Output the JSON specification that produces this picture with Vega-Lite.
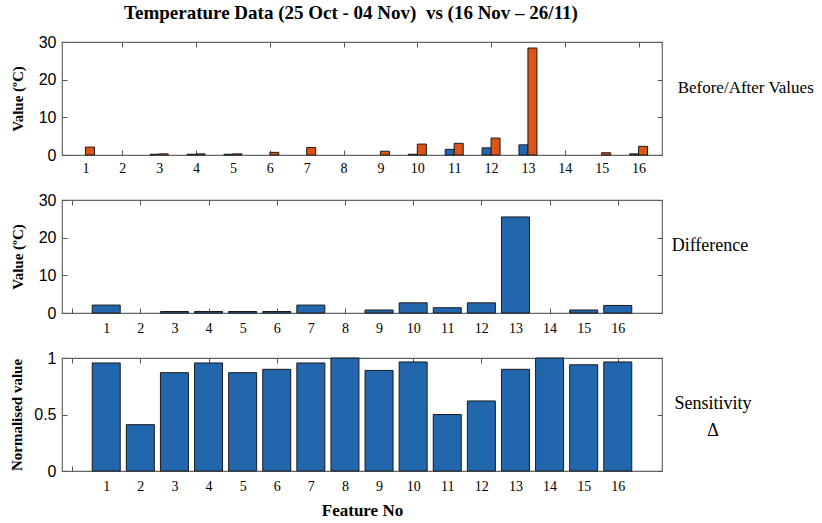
{
  "$schema": "https://vega.github.io/schema/vega-lite/v6.json",
  "background": "white",
  "padding": {"left": 9, "top": 4, "right": 0, "bottom": 0},
  "title": {"text": "Temperature Data (25 Oct - 04 Nov) \u00a0vs (16 Nov – 26/11)", "font": "Liberation Serif", "fontSize": 19, "fontWeight": "bold", "anchor": "middle", "frame": "group", "offset": 10, "dx": -11, "color": "#000"},
  "datasets": {
    "features": [
      {"feature": 1, "before": 0, "after": 2.1, "difference": 2.1, "sensitivity": 0.956},
      {"feature": 2, "before": 0, "after": 0, "difference": 0, "sensitivity": 0.41},
      {"feature": 3, "before": 0.2, "after": 0.3, "difference": 0.4, "sensitivity": 0.87},
      {"feature": 4, "before": 0.2, "after": 0.3, "difference": 0.4, "sensitivity": 0.956},
      {"feature": 5, "before": 0.2, "after": 0.3, "difference": 0.4, "sensitivity": 0.87},
      {"feature": 6, "before": 0, "after": 0.7, "difference": 0.4, "sensitivity": 0.9},
      {"feature": 7, "before": 0, "after": 2.0, "difference": 2.1, "sensitivity": 0.956},
      {"feature": 8, "before": 0, "after": 0, "difference": 0, "sensitivity": 1.0},
      {"feature": 9, "before": 0, "after": 1.0, "difference": 0.8, "sensitivity": 0.89},
      {"feature": 10, "before": 0.2, "after": 2.9, "difference": 2.7, "sensitivity": 0.965},
      {"feature": 11, "before": 1.5, "after": 3.1, "difference": 1.4, "sensitivity": 0.5},
      {"feature": 12, "before": 1.9, "after": 4.5, "difference": 2.7, "sensitivity": 0.62},
      {"feature": 13, "before": 2.7, "after": 28.4, "difference": 25.5, "sensitivity": 0.9},
      {"feature": 14, "before": 0, "after": 0, "difference": 0, "sensitivity": 1.0},
      {"feature": 15, "before": 0, "after": 0.6, "difference": 0.8, "sensitivity": 0.94},
      {"feature": 16, "before": 0.3, "after": 2.3, "difference": 2.0, "sensitivity": 0.965}
    ],
    "labels": [{"panel": "single"}]
  },
  "config": {
    "view": {"stroke": "#666", "strokeWidth": 1.2},
    "axis": {"domain": false, "grid": false, "tickColor": "#555", "tickWidth": 1, "labelColor": "#000", "titleColor": "#000"}
  },
  "bounds": "flush",
  "spacing": 45,
  "vconcat": [
    {
      "width": 600, "height": 113,
      "layer": [
        {
          "data": {"name": "features"},
          "transform": [{"filter": "datum.before > 0"}],
          "mark": {"type": "bar", "orient": "vertical", "size": 9, "xOffset": -4.5, "color": "#2267ad", "stroke": "#1a1a1a", "strokeWidth": 1},
          "encoding": {
            "x": {"field": "feature", "type": "quantitative", "scale": {"domain": [0.5, 16.5], "nice": false, "zero": false},
              "axis": {"orient": "bottom", "offset": -5, "tickSize": 5, "values": [1,2,3,4,5,6,7,8,9,10,11,12,13,14,15,16],
                "tickOpacity": {"condition": {"test": "datum.value % 2 === 0", "value": 1}, "value": 0},
                "labelFont": "Liberation Serif", "labelFontSize": 14, "labelPadding": 6, "title": null}},
            "y": {"field": "before", "type": "quantitative", "stack": null, "scale": {"domain": [0, 30], "nice": false},
              "axis": {"orient": "left", "offset": -5, "tickSize": 5, "values": [0, 10, 20, 30], "labelFont": "Liberation Sans", "labelFontSize": 16, "labelPadding": 6,
                "title": "Value (ºC)", "titleFont": "Liberation Serif", "titleFontWeight": "bold", "titleFontSize": 15, "titlePadding": 13}}
          }
        },
        {
          "data": {"name": "features"},
          "transform": [{"filter": "datum.after > 0"}],
          "mark": {"type": "bar", "orient": "vertical", "size": 9, "xOffset": 4.5, "color": "#dd5516", "stroke": "#1a1a1a", "strokeWidth": 1},
          "encoding": {
            "x": {"field": "feature", "type": "quantitative",
              "axis": {"orient": "top", "offset": -5, "tickSize": 5, "values": [2,4,6,8,10,12,14,16], "labels": false, "title": null}},
            "y": {"field": "after", "type": "quantitative", "stack": null,
              "axis": {"orient": "right", "offset": -5, "tickSize": 5, "values": [0, 10, 20, 30], "labels": false, "title": null}}
          }
        },
        {
          "data": {"name": "labels"},
          "mark": {"type": "text", "align": "left", "baseline": "middle", "font": "Liberation Serif", "fontSize": 17, "fontWeight": "normal", "fill": "#000"},
          "encoding": {
            "x": {"datum": 17.06, "type": "quantitative", "axis": null},
            "y": {"datum": 17.8, "type": "quantitative", "axis": null},
            "text": {"value": "Before/After Values"}
          }
        }
      ],
      "resolve": {"axis": {"x": "independent", "y": "independent"}}
    },
    {
      "width": 600, "height": 113,
      "layer": [
        {
          "data": {"name": "features"},
          "transform": [{"filter": "datum.difference > 0"}],
          "mark": {"type": "bar", "orient": "vertical", "size": 28, "color": "#2267ad", "stroke": "#1a1a1a", "strokeWidth": 1},
          "encoding": {
            "x": {"field": "feature", "type": "quantitative", "scale": {"domain": [-0.15, 17.15], "nice": false, "zero": false},
              "axis": {"orient": "bottom", "offset": -5, "tickSize": 5, "values": [0,1,2,3,4,5,6,7,8,9,10,11,12,13,14,15,16],
                "tickOpacity": {"condition": {"test": "datum.value % 2 === 0", "value": 1}, "value": 0},
                "labelExpr": "datum.value === 0 ? '' : datum.label",
                "labelFont": "Liberation Serif", "labelFontSize": 14, "labelPadding": 8, "title": null}},
            "y": {"field": "difference", "type": "quantitative", "stack": null, "scale": {"domain": [0, 30], "nice": false},
              "axis": {"orient": "left", "offset": -5, "tickSize": 5, "values": [0, 10, 20, 30], "labelFont": "Liberation Sans", "labelFontSize": 16, "labelPadding": 6,
                "title": "Value (ºC)", "titleFont": "Liberation Serif", "titleFontWeight": "bold", "titleFontSize": 15, "titlePadding": 13}}
          }
        },
        {
          "data": {"name": "features"},
          "mark": {"type": "point", "opacity": 0},
          "encoding": {
            "x": {"field": "feature", "type": "quantitative",
              "axis": {"orient": "top", "offset": -5, "tickSize": 5, "values": [0,2,4,6,8,10,12,14,16], "labels": false, "title": null}},
            "y": {"field": "difference", "type": "quantitative",
              "axis": {"orient": "right", "offset": -5, "tickSize": 5, "values": [0, 10, 20, 30], "labels": false, "title": null}}
          }
        },
        {
          "data": {"name": "labels"},
          "mark": {"type": "text", "align": "left", "baseline": "middle", "font": "Liberation Serif", "fontSize": 18, "fontWeight": "normal", "fill": "#000"},
          "encoding": {
            "x": {"datum": 17.58, "type": "quantitative", "axis": null},
            "y": {"datum": 17.8, "type": "quantitative", "axis": null},
            "text": {"value": "Difference"}
          }
        }
      ],
      "resolve": {"axis": {"x": "independent", "y": "independent"}}
    },
    {
      "width": 600, "height": 113,
      "layer": [
        {
          "data": {"name": "features"},
          "mark": {"type": "bar", "orient": "vertical", "size": 28, "color": "#2267ad", "stroke": "#1a1a1a", "strokeWidth": 1},
          "encoding": {
            "x": {"field": "feature", "type": "quantitative", "scale": {"domain": [-0.15, 17.15], "nice": false, "zero": false},
              "axis": {"orient": "bottom", "offset": -5, "tickSize": 5, "values": [0,1,2,3,4,5,6,7,8,9,10,11,12,13,14,15,16],
                "tickOpacity": {"condition": {"test": "datum.value % 2 === 0", "value": 1}, "value": 0},
                "labelExpr": "datum.value === 0 ? '' : datum.label",
                "labelFont": "Liberation Serif", "labelFontSize": 14, "labelPadding": 8,
                "title": "Feature No", "titleFont": "Liberation Serif", "titleFontWeight": "bold", "titleFontSize": 17, "titlePadding": 9}},
            "y": {"field": "sensitivity", "type": "quantitative", "stack": null, "scale": {"domain": [0, 1], "nice": false},
              "axis": {"orient": "left", "offset": -5, "tickSize": 5, "values": [0, 0.5, 1], "format": "~g", "labelFont": "Liberation Sans", "labelFontSize": 16, "labelPadding": 6,
                "title": "Normalised value", "titleFont": "Liberation Serif", "titleFontWeight": "bold", "titleFontSize": 15, "titlePadding": 9}}
          }
        },
        {
          "data": {"name": "features"},
          "mark": {"type": "point", "opacity": 0},
          "encoding": {
            "x": {"field": "feature", "type": "quantitative",
              "axis": {"orient": "top", "offset": -5, "tickSize": 5, "values": [0,2,4,6,8,10,12,14,16], "labels": false, "title": null}},
            "y": {"field": "sensitivity", "type": "quantitative",
              "axis": {"orient": "right", "offset": -5, "tickSize": 5, "values": [0, 0.5, 1], "labels": false, "title": null}}
          }
        },
        {
          "data": {"name": "labels"},
          "mark": {"type": "text", "align": "center", "baseline": "middle", "font": "Liberation Serif", "fontSize": 18, "fontWeight": "normal", "lineHeight": 27, "fill": "#000"},
          "encoding": {
            "x": {"datum": 18.79, "type": "quantitative", "axis": null},
            "y": {"datum": 0.59, "type": "quantitative", "axis": null},
            "text": {"value": ["Sensitivity", "Δ"]}
          }
        }
      ],
      "resolve": {"axis": {"x": "independent", "y": "independent"}}
    }
  ]
}
